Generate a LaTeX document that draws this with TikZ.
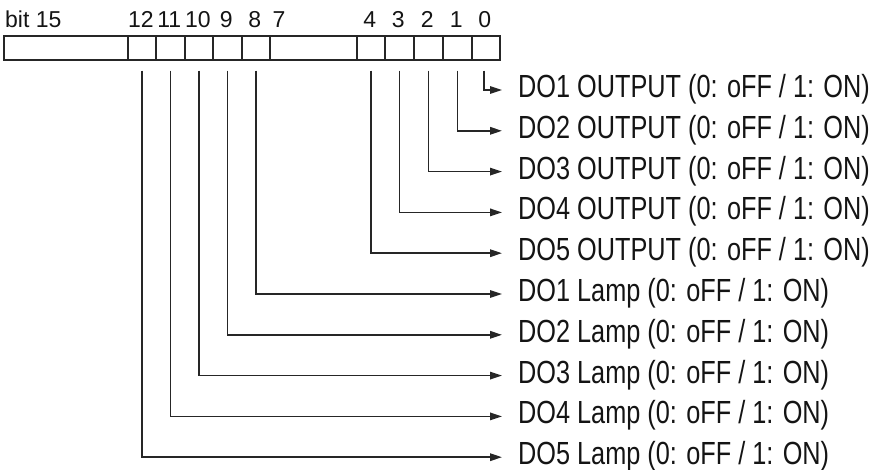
\documentclass[tikz,border=0pt]{standalone}
\usepackage{fontspec}
\setmainfont{Liberation Sans}
\newfontfamily\lblfont[FakeStretch=0.79]{Liberation Sans}
\newfontfamily\bitfont[FakeStretch=1.0]{Liberation Sans}
\usetikzlibrary{arrows.meta}
\definecolor{linec}{gray}{0.15}
\definecolor{txtc}{gray}{0.08}
\begin{document}
\begin{tikzpicture}[x=1pt,y=-1pt,
  cell/.style={draw=linec, line width=1.6pt, minimum height=24pt, inner sep=0pt, anchor=north west},
  bitlbl/.style={font=\bitfont\fontsize{23}{27}\selectfont, anchor=base, inner sep=0pt, text=txtc},
  lbl/.style={font=\lblfont\fontsize{32}{38}\selectfont, anchor=base west, inner sep=0pt, text=txtc},
  conn/.style={draw=linec, line width=1.6pt, -{Triangle[length=12pt,width=7.5pt]}}]
\useasboundingbox (0,0) rectangle (873,470);
% register cells
\foreach \n/\l/\r in {c15/3/127, c12/127/155, c11/155/184, c10/184/212, c9/212/241, c8/241/269, c7/269/356, c4/356/384, c3/384/413, c2/413/442, c1/442/471, c0/471/499} {
  \pgfmathsetmacro\w{\r-\l}
  \node[cell, minimum width=\w pt] (\n) at (\l,35) {};
}
% bit numbers
\path (c15.north west) ++(2,-7) node[bitlbl, anchor=base west] (n15) {bit 15};
\foreach \b in {12,11,10,9,8,4,3,2,1,0} {
  \path (c\b.north) ++(-1,-7) node[bitlbl] (n\b) {\b};
}
\path (c7.north west) ++(10,-7) node[bitlbl] (n7) {7};
% tips and labels
\foreach \r/\t in {0/DO1 OUTPUT, 1/DO2 OUTPUT, 2/DO3 OUTPUT, 3/DO4 OUTPUT, 4/DO5 OUTPUT, 5/DO1 Lamp, 6/DO2 Lamp, 7/DO3 Lamp, 8/DO4 Lamp, 9/DO5 Lamp} {
  \pgfmathsetmacro\yy{90+40.8*\r}
  \coordinate (t\r) at (502,\yy);
  \path (t\r) ++(16,7.5) node[lbl] (l\r) {\t\ (0: oFF / 1: ON)};
}
% connectors
\draw[conn] ([xshift=-2pt,yshift=-10pt]c0.south) |- (t0);
\foreach \b/\r in {1/1, 2/2, 3/3, 4/4, 8/5, 9/6, 10/7, 11/8, 12/9} {
  \draw[conn] ([yshift=-10pt]c\b.south) |- (t\r);
}
\end{tikzpicture}
\end{document}
